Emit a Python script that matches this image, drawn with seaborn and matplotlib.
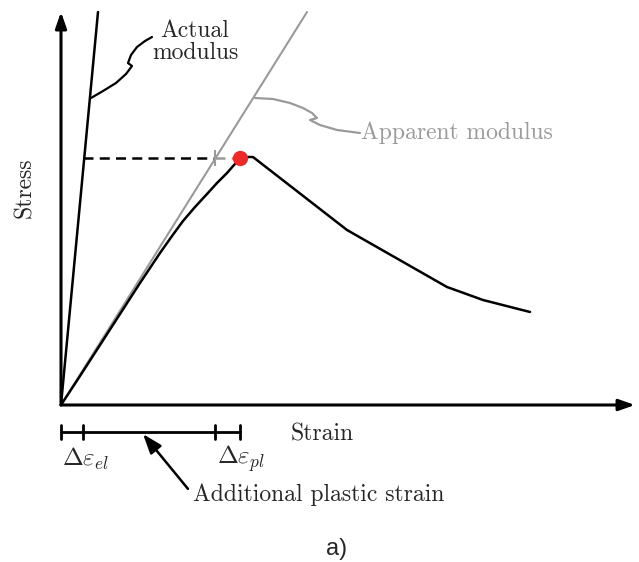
import numpy as np
import pandas as pd
import seaborn as sns
import matplotlib.pyplot as plt

# schematic stress-strain curve (arbitrary units, origin at the axes corner)
strain = [0, 0.19, 0.39, 0.59, 0.79, 0.99, 1.11, 1.22, 1.34, 1.46, 1.56, 1.66, 1.73,
          1.79, 1.85, 1.92, 2.86, 3.86, 4.22, 4.69]
stress = [0, 0.29, 0.60, 0.91, 1.22, 1.52, 1.69, 1.84, 1.98, 2.11, 2.22, 2.32, 2.40,
          2.46, 2.48, 2.48, 1.75, 1.18, 1.05, 0.93]

peak_strain, peak_stress = 1.79, 2.47
actual_modulus = [(0, 0), (0.37, 3.93)]
apparent_modulus = [(0, 0), (2.46, 3.93)]
cross_strain = 1.545          # apparent modulus line at peak stress
actual_at_peak = 0.225        # actual modulus line at peak stress

# bracket below the strain axis: el / additional / pl
bar_ticks = [0, 0.225, 1.545, 1.79]
bar_y = -0.27

# leader squiggles for the labels
actual_leader_x = [0.30, 0.42, 0.55, 0.65, 0.71, 0.67, 0.70, 0.76, 0.84, 0.91]
actual_leader_y = [3.07, 3.14, 3.22, 3.31, 3.39, 3.42, 3.50, 3.58, 3.64, 3.68]
apparent_leader_x = [1.94, 2.12, 2.29, 2.42, 2.51, 2.56, 2.49, 2.59, 2.76, 2.99]
apparent_leader_y = [3.07, 3.06, 3.02, 2.97, 2.92, 2.87, 2.85, 2.80, 2.75, 2.72]

sns.set_theme(style="white")
plt.rcParams['font.family'] = ['cmr10', 'DejaVu Serif']
plt.rcParams['mathtext.fontset'] = 'cm'
plt.rcParams['axes.unicode_minus'] = False

fig = plt.figure(figsize=(6.39, 5.62), dpi=100)
ax = fig.add_axes([0, 0, 1, 1])
ax.set_xlim(-0.61, 5.78)
ax.set_ylim(-1.57, 4.05)
ax.axis('off')

gray = '#9a9a9a'

# axes arrows
arrow = dict(arrowstyle='-|>,head_length=0.8,head_width=0.28', lw=2.2, color='black',
             shrinkA=0, shrinkB=0)
ax.annotate('', xy=(0, 3.93), xytext=(0, 0), arrowprops=arrow)
ax.annotate('', xy=(5.74, 0), xytext=(0, 0), arrowprops=arrow)

# modulus lines
ax.plot(*zip(*apparent_modulus), color=gray, lw=1.5)
ax.plot(*zip(*actual_modulus), color='black', lw=1.8)

# curve
df = pd.DataFrame({'strain': strain, 'stress': stress})
sns.lineplot(data=df, x='strain', y='stress', sort=False, estimator=None,
             color='black', lw=1.8, ax=ax)

# dashed peak-stress line
ax.plot([actual_at_peak, cross_strain], [peak_stress, peak_stress], color='black',
        lw=1.8, ls=(0, (4, 2.5)))
ax.plot([cross_strain, peak_strain], [peak_stress, peak_stress], color=gray,
        lw=1.8, ls=(0, (4, 2.5)))
ax.plot([cross_strain], [peak_stress], marker='|', ms=12, mew=1.5, color=gray)
ax.plot([peak_strain], [peak_stress], marker='o', ms=11, color='#ec2a2a', mec='none', zorder=5)

# leaders
ax.plot(actual_leader_x, actual_leader_y, color='black', lw=1.6,
        solid_joinstyle='round', solid_capstyle='round')
ax.plot(apparent_leader_x, apparent_leader_y, color=gray, lw=1.6,
        solid_joinstyle='round', solid_capstyle='round')

fs = 17
ax.text(1.34, 3.63, 'Actual\nmodulus', ha='center', va='center', fontsize=fs,
        linespacing=0.95)
ax.text(3.00, 2.72, 'Apparent modulus', ha='left', va='center', fontsize=fs, color=gray)
ax.text(-0.36, 2.17, 'Stress', ha='center', va='center', rotation=90, fontsize=fs)
ax.text(2.61, -0.29, 'Strain', ha='center', va='center', fontsize=fs)

# strain bracket
ax.plot([bar_ticks[0], bar_ticks[-1]], [bar_y, bar_y], color='black', lw=2)
for t in bar_ticks:
    ax.plot([t, t], [bar_y - 0.07, bar_y + 0.07], color='black', lw=2)
ax.text(0.01, -0.54, r'$\Delta\varepsilon_{el}$', ha='left', va='center', fontsize=fs + 1)
ax.text(1.56, -0.54, r'$\Delta\varepsilon_{pl}$', ha='left', va='center', fontsize=fs + 1)
ax.annotate('Additional plastic strain', xy=(0.82, -0.29), xytext=(1.32, -0.90),
            ha='left', va='center', fontsize=fs,
            arrowprops=dict(arrowstyle='-|>,head_length=0.7,head_width=0.25', lw=1.8,
                            color='black', shrinkA=2, shrinkB=0,
                            relpos=(0, 0.5)))

ax.text(2.76, -1.44, 'a)', ha='center', va='center', fontsize=17,
        family=['Liberation Sans', 'DejaVu Sans'])

fig.savefig('out.png', dpi=100)
